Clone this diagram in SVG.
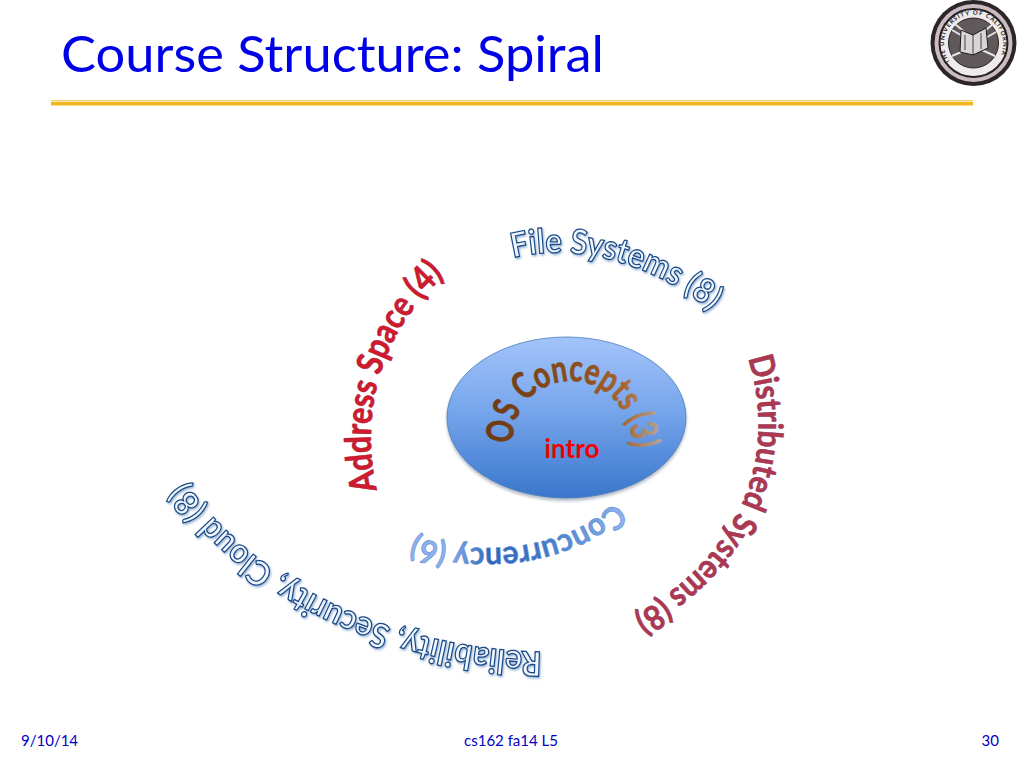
<svg xmlns="http://www.w3.org/2000/svg" width="1024" height="768" viewBox="0 0 1024 768">
<defs>
<linearGradient id="g" x1="0" y1="0" x2="0" y2="1"><stop offset="0" stop-color="#a3c4fa"/><stop offset="0.45" stop-color="#77a6ec"/><stop offset="1" stop-color="#3a76cc"/></linearGradient>
<linearGradient id="gc" gradientUnits="userSpaceOnUse" x1="410" y1="0" x2="622" y2="0"><stop offset="0" stop-color="#8db2ee"/><stop offset=".18" stop-color="#8db2ee"/><stop offset=".38" stop-color="#2f66b8"/><stop offset=".62" stop-color="#3f78c8"/><stop offset="1" stop-color="#8db2ee"/></linearGradient>
<linearGradient id="go" gradientUnits="userSpaceOnUse" x1="487" y1="0" x2="658" y2="0"><stop offset="0" stop-color="#6d3a12"/><stop offset=".6" stop-color="#8f5220"/><stop offset=".8" stop-color="#a8662e"/><stop offset="1" stop-color="#b3a090"/></linearGradient>
<filter id="sh" x="-10%" y="-10%" width="120%" height="120%"><feGaussianBlur stdDeviation="1.5"/></filter>
<filter id="ts" x="-10%" y="-10%" width="120%" height="120%"><feDropShadow dx="1" dy="1.5" stdDeviation="1.2" flood-color="#4f7fb8" flood-opacity=".6"/></filter>
<path id="pA" d="M377 490 C 361 420 375 340 440 280 L 460 262"/>
<path id="pF" d="M513 258 C 570 243 650 260 712 312 L 730 330"/>
<path id="pD" d="M748 358 C 782 470 730 560 634 616 L 615 626"/>
<path id="pR" d="M542 652 C 420 650 270 600 190 488 L 176 468"/>
<path id="pC" d="M614 502 C 570 550 470 560 411 534 L 395 525"/>
<path id="pO" d="M513 444 C 510 365 625 355 633 445 L 634 465"/>
<path id="pSeal" d="M950 62 A29.5 29.5 0 1 1 997 62"/>
</defs>
<style>
text{font-family:"Lato","Carlito","Liberation Sans",sans-serif}
.f{font-size:34px;font-weight:700;fill:#f0f6fd;stroke:#1a4a85;stroke-width:1.3px;filter:url(#ts)}
.a{font-size:36px;font-weight:700;fill:#d3192c;stroke:#a8203a;stroke-width:.7px}
.d{font-size:34px;font-weight:700;fill:#b0384e;stroke:#8b3560;stroke-width:.6px}
.c{font-size:32px;font-weight:700;fill:url(#gc);stroke:#5d8ad2;stroke-width:.6px}
.o{font-size:37px;font-weight:700;fill:url(#go);stroke:url(#go);stroke-width:.7px}
.s{font-size:15px;fill:#0000c8}
</style>
<rect width="1024" height="768" fill="#fff"/>
<g id="title"><text x="61" y="72" font-size="50" fill="#0000e6" textLength="543" lengthAdjust="spacingAndGlyphs">Course Structure: Spiral</text></g>
<g id="rule-line"><rect x="51" y="100" width="922" height="1.5" fill="#f6cf6a"/><rect x="51" y="102" width="922" height="3.5" fill="#f2b71f"/></g>
<g id="seal">
<circle cx="973.5" cy="43" r="43" fill="#2d2528"/>
<circle cx="973.5" cy="43" r="39" fill="#c9bcc2"/>
<circle cx="973.5" cy="43" r="34" fill="#efeaec" stroke="#26201f" stroke-width="2"/>
<circle cx="973.5" cy="43" r="25" fill="#5f595c" stroke="#26201f"/>
<path d="M952 30L966 38M955 24L968 35M993 24L980 35M996 32L982 40M952 56L966 50M995 56L982 50" stroke="#e8e4e5" stroke-width="2"/>
<path d="M960 52L961 30L973 35L986 28L988 48L973 55Z" fill="#d9d5d6" stroke="#1d1a1b"/>
<path d="M973 35V55M965 35V50M981 33V49" stroke="#1d1a1b" stroke-width=".8"/>
<text font-size="6" font-weight="700" fill="#1d1a1b"><textPath href="#pSeal" textLength="122" lengthAdjust="spacing">THE UNIVERSITY OF CALIFORNIA</textPath></text>
</g>
<g id="core">
<ellipse cx="566.5" cy="420" rx="120" ry="81" fill="#6c7a90" opacity=".5" filter="url(#sh)"/>
<ellipse cx="566.5" cy="417.5" rx="119.5" ry="80.5" fill="url(#g)" stroke="#4a7ebb" stroke-width=".8"/>
<text class="o"><textPath href="#pO" textLength="198" lengthAdjust="spacingAndGlyphs">OS Concepts (3)</textPath></text>
<text x="572" y="458" font-size="26" font-weight="700" fill="#f00000" text-anchor="middle">intro</text>
</g>
<g id="address-space"><text class="a"><textPath href="#pA" textLength="236" lengthAdjust="spacingAndGlyphs">Address Space (4)</textPath></text></g>
<g id="file-systems"><text class="f"><textPath href="#pF" textLength="212" lengthAdjust="spacingAndGlyphs">File Systems (8)</textPath></text></g>
<g id="distributed"><text class="d"><textPath href="#pD" textLength="308" lengthAdjust="spacingAndGlyphs">Distributed Systems (8)</textPath></text></g>
<g id="reliability"><text class="f"><textPath href="#pR" textLength="410" lengthAdjust="spacingAndGlyphs">Reliability, Security, Cloud (8)</textPath></text></g>
<g id="concurrency"><text class="c"><textPath href="#pC" textLength="212" lengthAdjust="spacingAndGlyphs">Concurrency (6)</textPath></text></g>
<g id="footer">
<text class="s" x="21" y="746">9/10/14</text>
<text class="s" x="511" y="746" text-anchor="middle">cs162 fa14 L5</text>
<text class="s" x="999" y="746" text-anchor="end">30</text>
</g>
</svg>
